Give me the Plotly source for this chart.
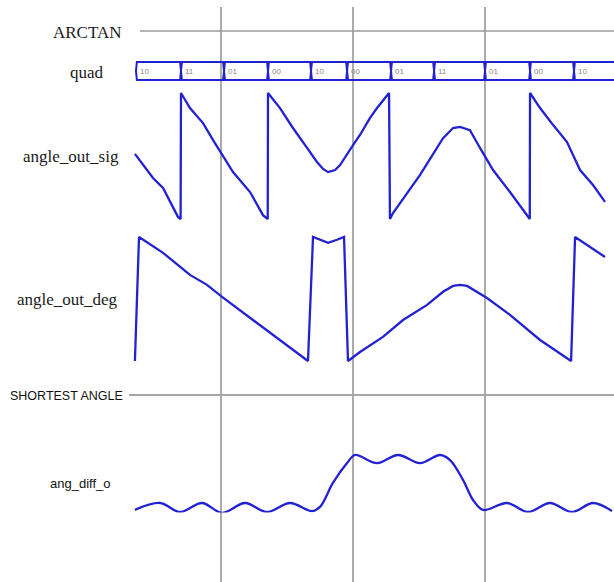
import plotly.graph_objects as go

# ---------------- data ----------------
# time axis (ns); cursor grid at 100, 200, 300
grid_times = [100, 200, 300]

# quad bus: segment edges and the 2-bit code held in each segment
quad_edges = [35.6, 69.7, 102.3, 135.6, 168.2, 195.5, 228.8, 261.4, 300.0, 334.1, 367.4, 399.0]
quad_codes = ["10", "11", "01", "00", "10", "00", "01", "11", "01", "00", "10"]

# angle_out_sig: signed angle in degrees (-180..180)
sig_time = [34.8, 48.5, 56.1, 67.4, 69.4, 69.7, 76.5, 86.4, 93.9, 100.8, 109.1, 122.0, 131.8,
            135.4, 135.6, 144.7, 154.5, 165.2, 172.7, 177.3, 181.1, 186.4, 190.2, 200.0, 205.3,
            212.9, 218.2, 227.3, 228.0, 230.3, 250.8, 268.2, 275.8, 281.1, 288.6, 296.2, 306.1,
            318.9, 331.8, 333.9, 334.1, 341.7, 351.5, 362.1, 372.0, 381.8, 390.9]
sig_deg = [6, -63, -91, -174, -180, 180, 137, 94, 46, 3, -46, -103, -169,
           -180, 180, 137, 80, 23, -17, -37, -46, -40, -26, 31, 60,
           109, 137, 180, -180, -163, -54, 51, 80, 83, 74, 23, -40,
           -103, -169, -180, 180, 137, 89, 40, -40, -83, -131]

# angle_out_deg: unsigned angle in degrees (0..360)
deg_time = [34.8, 37.9, 56.1, 76.5, 89.4, 100.8, 124.2, 142.4, 165.9, 169.7, 175.0, 181.1,
            187.9, 193.2, 196.2, 205.3, 222.7, 237.9, 256.1, 268.2, 275.8, 281.1, 286.4,
            293.9, 301.5, 318.9, 341.7, 365.2, 368.2, 390.9]
deg_val = [0, 360, 314, 250, 221, 186, 119, 67, 0, 360, 352, 343,
           352, 360, 0, 26, 70, 119, 163, 201, 218, 221, 218,
           201, 183, 134, 61, 0, 360, 302]

# ang_diff_o: shortest angular difference (degrees)
diff_time = [34.8, 53.8, 68.9, 85.6, 100.8, 118.2, 134.8, 152.3, 168.9, 175.0, 184.8, 195.5,
             201.5, 218.2, 234.1, 250.8, 265.9, 273.5, 283.3, 290.9, 298.5, 316.7, 332.6,
             349.2, 365.9, 381.8, 396.2]
diff_val = [-8, 15, -15, 15, -18, 15, -15, 15, -12, 2, 82, 148,
            175, 148, 175, 148, 175, 158, 92, 25, -8, 15, -15,
            15, -15, 15, -12]

# ---------------- layout helpers ----------------
W, H = 614, 582
T_MIN, T_MAX = -67.4, 397.7
WAVE = "#2222d2"
GRID = "#ababab"
INK = "#1a1a1a"
LW = 2.3


def band(v_bottom, v_top, px_bottom, px_top, pad=5):
    """Axis range/domain so that v_bottom sits at px_bottom and v_top at px_top."""
    scale = (v_top - v_bottom) / (px_bottom - px_top)
    rng = [v_bottom - pad * scale, v_top + pad * scale]
    dom = [1 - (px_bottom + pad) / H, 1 - (px_top - pad) / H]
    return rng, dom


def px_y(py):
    return 1 - py / H


def px_x(px):
    return px / W


quad_rng, quad_dom = band(0, 1, 80, 62)
sig_rng, sig_dom = band(-180, 180, 219, 93)
deg_rng, deg_dom = band(0, 360, 361, 237)
diff_rng, diff_dom = band(0, 180, 507.5, 453.5)

fig = go.Figure()

# quad bus outline: one narrow hexagon per held value
d = 0.7
bx, by = [], []
for a, b in zip(quad_edges[:-1], quad_edges[1:]):
    bx += [a, a + d, b - d, b, b - d, a + d, a, None]
    by += [0.5, 1, 1, 0.5, 0, 0, 0.5, None]
fig.add_trace(go.Scatter(x=bx, y=by, mode="lines", yaxis="y",
                         line=dict(color=WAVE, width=2), hoverinfo="skip"))

fig.add_trace(go.Scatter(x=sig_time, y=sig_deg, mode="lines", yaxis="y2",
                         line=dict(color=WAVE, width=LW)))
fig.add_trace(go.Scatter(x=deg_time, y=deg_val, mode="lines", yaxis="y3",
                         line=dict(color=WAVE, width=LW)))
fig.add_trace(go.Scatter(x=diff_time, y=diff_val, mode="lines", yaxis="y4",
                         line=dict(color=WAVE, width=LW, shape="spline", smoothing=1.0)))

hidden = dict(visible=False, showgrid=False, zeroline=False, fixedrange=True)
fig.update_layout(
    width=W, height=H,
    margin=dict(l=0, r=0, t=0, b=0),
    paper_bgcolor="white", plot_bgcolor="white",
    showlegend=False,
    xaxis=dict(range=[T_MIN, T_MAX], domain=[0, 1], **hidden),
    yaxis=dict(range=quad_rng, domain=quad_dom, anchor="x", **hidden),
    yaxis2=dict(range=sig_rng, domain=sig_dom, anchor="x", **hidden),
    yaxis3=dict(range=deg_rng, domain=deg_dom, anchor="x", **hidden),
    yaxis4=dict(range=diff_rng, domain=diff_dom, anchor="x", **hidden),
)

shapes = []
for t in grid_times:
    shapes.append(dict(type="line", xref="x", yref="paper", x0=t, x1=t,
                       y0=0, y1=px_y(7), line=dict(color=GRID, width=2), layer="below"))
# section separators
shapes.append(dict(type="line", xref="paper", yref="paper", x0=px_x(140), x1=1,
                   y0=px_y(31), y1=px_y(31), line=dict(color="#9a9a9a", width=1.5), layer="below"))
shapes.append(dict(type="line", xref="paper", yref="paper", x0=px_x(129), x1=1,
                   y0=px_y(395), y1=px_y(395), line=dict(color="#a5a5a5", width=2), layer="below"))
fig.update_layout(shapes=shapes)

ann = []
serif = "Liberation Serif"
sans = "Liberation Sans"
ann.append(dict(text="ARCTAN", x=px_x(124), y=px_y(32), xanchor="right", yanchor="middle",
                font=dict(family=serif, size=17, color=INK)))
ann.append(dict(text="quad", x=px_x(106), y=px_y(72), xanchor="right", yanchor="middle",
                font=dict(family=serif, size=17, color=INK)))
ann.append(dict(text="angle_out_sig", x=px_x(121), y=px_y(157), xanchor="right", yanchor="middle",
                font=dict(family=serif, size=17, color=INK)))
ann.append(dict(text="angle_out_deg", x=px_x(120), y=px_y(300), xanchor="right", yanchor="middle",
                font=dict(family=serif, size=17, color=INK)))
ann.append(dict(text="SHORTEST ANGLE", x=px_x(8), y=px_y(396), xanchor="left", yanchor="middle",
                font=dict(family=sans, size=12.5, color="#111111")))
ann.append(dict(text="ang_diff_o", x=px_x(48), y=px_y(483), xanchor="left", yanchor="middle",
                font=dict(family=sans, size=13, color="#111111")))
for a, code in zip(quad_edges[:-1], quad_codes):
    ann.append(dict(text=code, x=a + 1.3, y=0.45, xref="x", yref="y", xanchor="left",
                    yanchor="middle", font=dict(family=sans, size=8, color="#8a8a8a")))
for a_ in ann:
    a_.setdefault("xref", "paper")
    a_.setdefault("yref", "paper")
    a_["showarrow"] = False
fig.update_layout(annotations=ann)

fig.write_html("out.html")
